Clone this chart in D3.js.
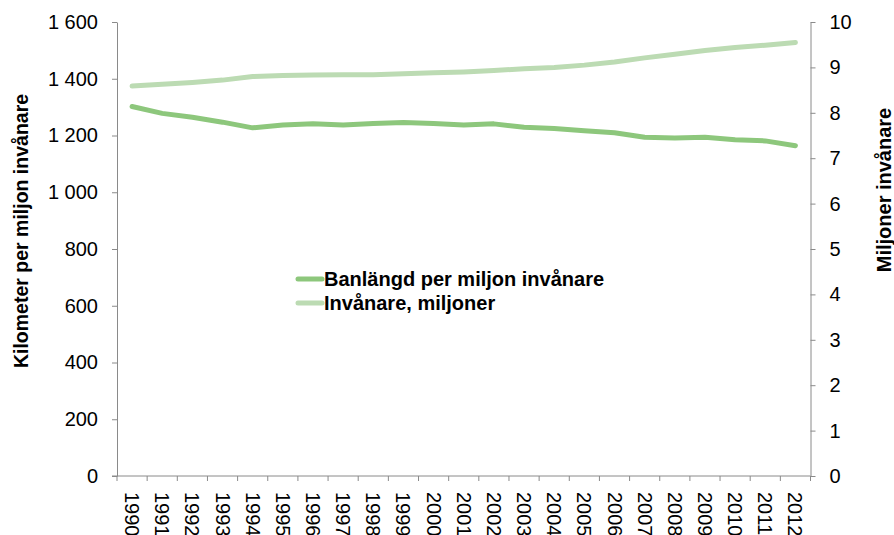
<!DOCTYPE html>
<html>
<head>
<meta charset="utf-8">
<script src="https://cdn.jsdelivr.net/npm/d3@7"></script>
<style>
  body { margin: 0; background: #fff; }
  text { font-family: "Liberation Sans", Arial, sans-serif; fill: #000; }
</style>
</head>
<body>
<div class="chart"></div>
<script>
// years on the x axis
var years = ["1990","1991","1992","1993","1994","1995","1996","1997","1998","1999","2000","2001",
  "2002","2003","2004","2005","2006","2007","2008","2009","2010","2011","2012"];

// km railway per million inhabitants (left axis)
var banlangd = [1302, 1278, 1264, 1247, 1227, 1237, 1241, 1237, 1242, 1246, 1242, 1237,
  1241, 1229, 1225, 1217, 1210, 1194, 1191, 1194, 1185, 1181, 1164];

// inhabitants, millions (right axis)
var invanare = [8.59, 8.63, 8.67, 8.72, 8.80, 8.82, 8.83, 8.84, 8.84, 8.86, 8.88, 8.90,
  8.93, 8.97, 9.00, 9.05, 9.12, 9.21, 9.29, 9.37, 9.44, 9.49, 9.55];

var leftTicks = [0, 200, 400, 600, 800, 1000, 1200, 1400, 1600];
var rightTicks = [0, 1, 2, 3, 4, 5, 6, 7, 8, 9, 10];

var seriesNames = ["Banlängd per miljon invånare", "Invånare, miljoner"];
var colors = ["#8dc77c", "#bcdbb3"];

var svgWidth = 894, svgHeight = 535;
var plot = { left: 117, right: 810.5, top: 22, bottom: 476 };

var svg = d3.select(".chart").append("svg")
  .attr("width", svgWidth)
  .attr("height", svgHeight);

var x = d3.scaleBand().domain(years).range([plot.left, plot.right]).padding(0);
var yLeft = d3.scaleLinear().domain([0, 1600]).range([plot.bottom, plot.top]);
var yRight = d3.scaleLinear().domain([0, 10]).range([plot.bottom, plot.top]);

var fmt = function(d) { return d3.format(",")(d).replace(",", " "); };

// left axis
var gl = svg.append("g")
  .attr("transform", "translate(" + plot.left + ",0)")
  .call(d3.axisLeft(yLeft).tickValues(leftTicks).tickFormat(fmt).tickSize(5).tickSizeOuter(0).tickPadding(14));

// right axis
var gr = svg.append("g")
  .attr("transform", "translate(" + plot.right + ",0)")
  .call(d3.axisRight(yRight).tickValues(rightTicks).tickSize(5).tickSizeOuter(0).tickPadding(14));

// x axis: ticks at category boundaries
var gx = svg.append("g")
  .attr("transform", "translate(0," + plot.bottom + ")");
gx.append("line")
  .attr("x1", plot.left - 5).attr("x2", plot.right)
  .attr("stroke", "#8a8a8a");
gx.selectAll("line.tk")
  .data(years.concat(["end"]))
  .enter().append("line")
  .attr("class", "tk")
  .attr("x1", function(d, i) { return i < years.length ? x(d) : plot.right; })
  .attr("x2", function(d, i) { return i < years.length ? x(d) : plot.right; })
  .attr("y1", 0).attr("y2", 5)
  .attr("stroke", "#8a8a8a");
gx.selectAll("text")
  .data(years)
  .enter().append("text")
  .attr("transform", function(d) {
    return "translate(" + (x(d) + x.bandwidth() / 2) + ",16) rotate(90)";
  })
  .attr("dy", "0.35em")
  .attr("text-anchor", "start")
  .attr("font-size", "20px")
  .text(function(d) { return d; });

[gl, gr].forEach(function(g) {
  g.select(".domain").attr("stroke", "#8a8a8a");
  g.selectAll(".tick line").attr("stroke", "#8a8a8a");
  g.selectAll(".tick text").attr("font-size", "20px").attr("font-family", "Liberation Sans, Arial, sans-serif").attr("fill", "#000");
});

// lines
var cx = function(d, i) { return x(years[i]) + x.bandwidth() / 2; };

svg.append("path")
  .datum(invanare)
  .attr("fill", "none")
  .attr("stroke", colors[1])
  .attr("stroke-width", 5)
  .attr("stroke-linecap", "round")
  .attr("stroke-linejoin", "round")
  .attr("d", d3.line().x(cx).y(function(d) { return yRight(d); }));

svg.append("path")
  .datum(banlangd)
  .attr("fill", "none")
  .attr("stroke", colors[0])
  .attr("stroke-width", 5)
  .attr("stroke-linecap", "round")
  .attr("stroke-linejoin", "round")
  .attr("d", d3.line().x(cx).y(function(d) { return yLeft(d); }));

// axis titles
svg.append("text")
  .attr("transform", "translate(21,231) rotate(-90)")
  .attr("text-anchor", "middle")
  .attr("dy", "0.35em")
  .attr("font-size", "19.5px")
  .attr("font-weight", "bold")
  .text("Kilometer per miljon invånare");

svg.append("text")
  .attr("transform", "translate(884,190) rotate(-90)")
  .attr("text-anchor", "middle")
  .attr("dy", "0.35em")
  .attr("font-size", "20px")
  .attr("font-weight", "bold")
  .text("Miljoner invånare");

// legend
var legend = svg.append("g");
var legendY = [279, 303];
seriesNames.forEach(function(name, i) {
  legend.append("line")
    .attr("x1", 298).attr("x2", 322)
    .attr("y1", legendY[i]).attr("y2", legendY[i])
    .attr("stroke", colors[i])
    .attr("stroke-width", 5)
    .attr("stroke-linecap", "round");
  legend.append("text")
    .attr("x", 324)
    .attr("y", legendY[i])
    .attr("dy", "0.35em")
    .attr("font-size", "20px")
    .attr("font-weight", "bold")
    .text(name);
});
</script>
</body>
</html>
